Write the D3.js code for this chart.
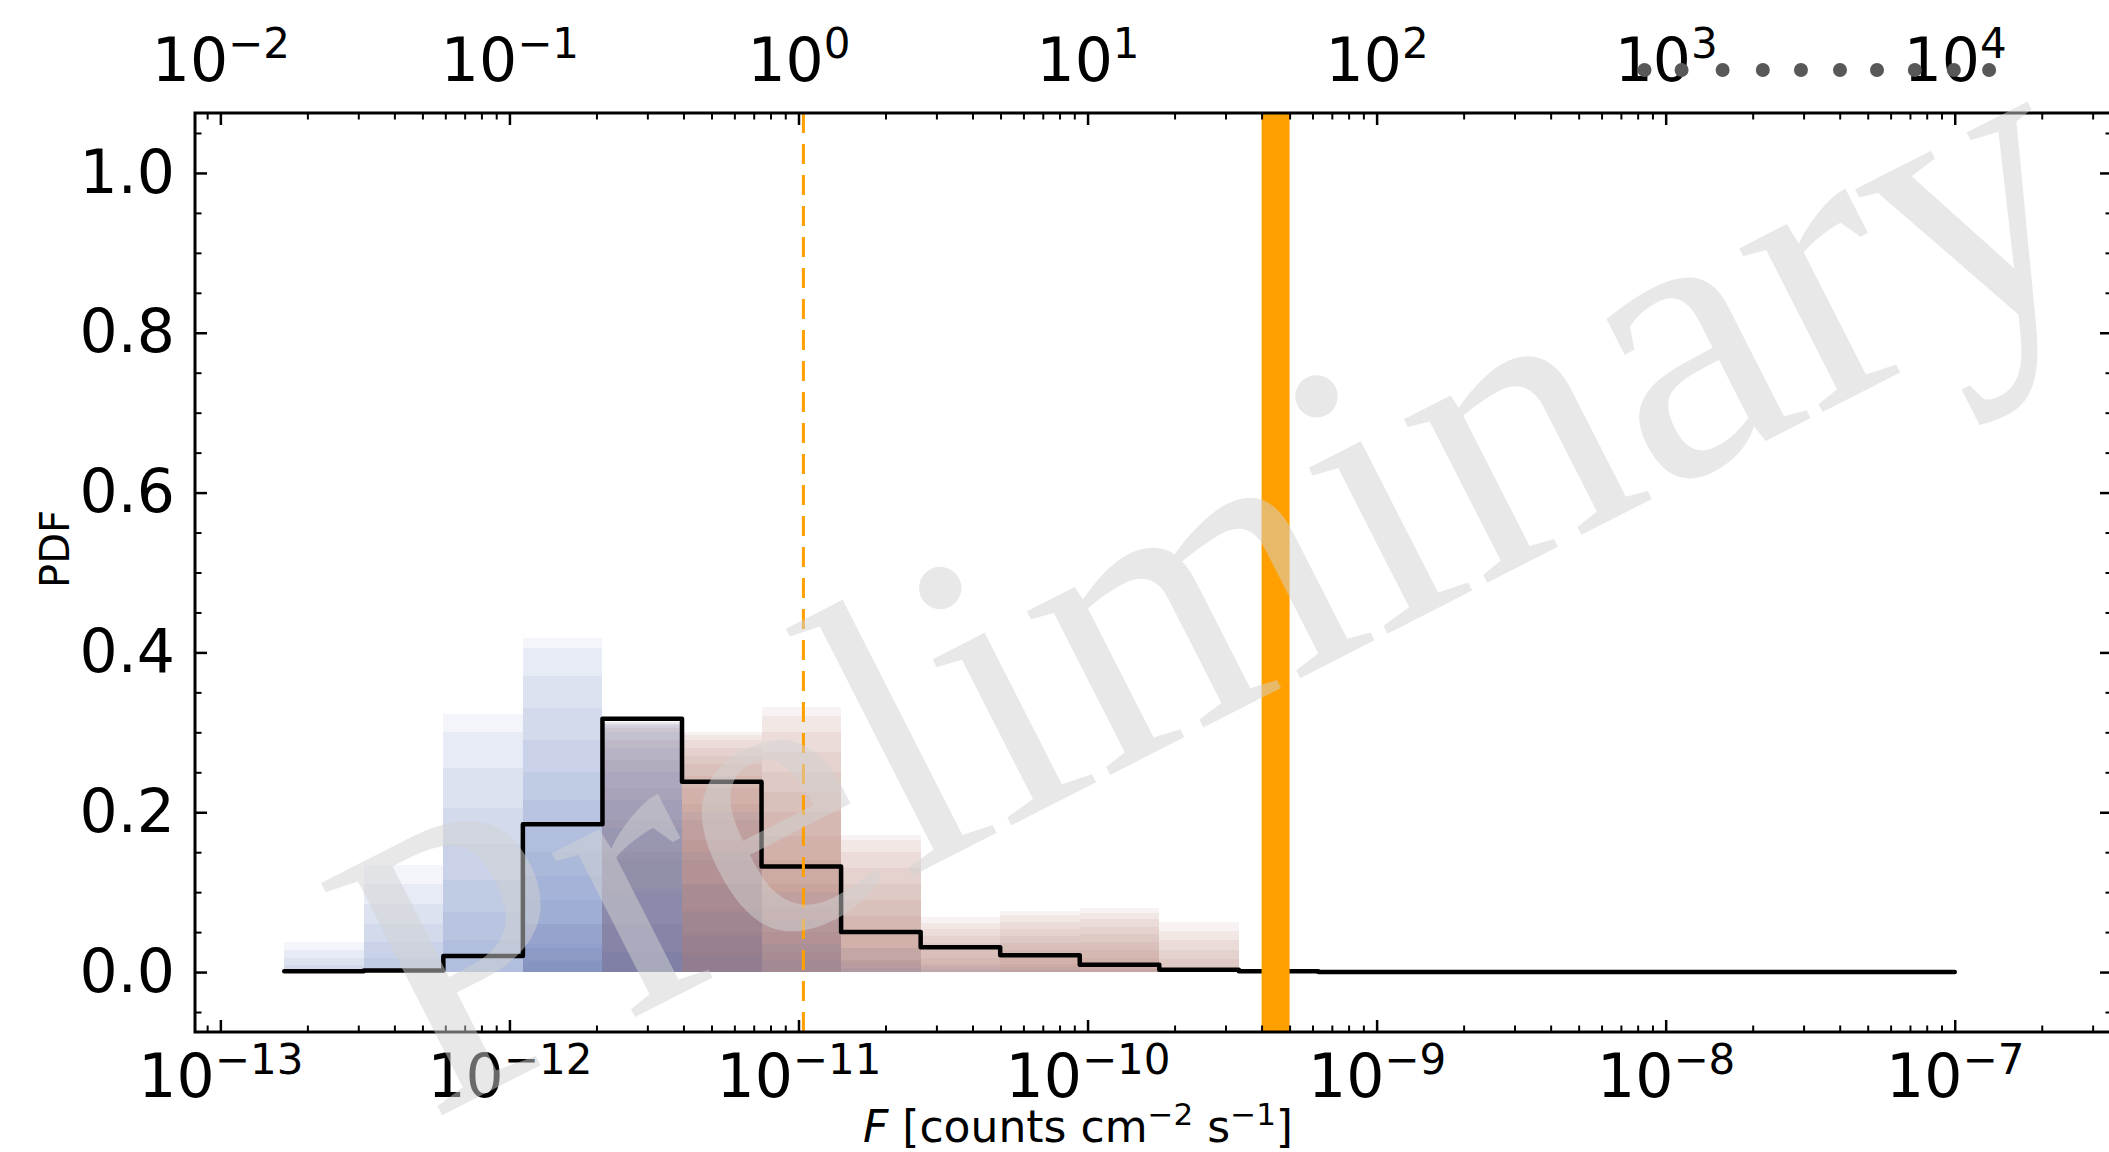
<!DOCTYPE html>
<html>
<head>
<meta charset="utf-8">
<script src="https://cdn.jsdelivr.net/npm/d3@7"></script>
<style>
  html, body { margin: 0; padding: 0; background: #fff; overflow: hidden; }
  svg { display: block; }
</style>
</head>
<body>
<svg id="chart" width="2109" height="1152"></svg>
<script>
// Histogram bin edges in flux [counts cm^-2 s^-1]
const binEdges = [1.663e-13, 3.135e-13, 5.907e-13, 1.113e-12, 2.098e-12, 3.954e-12, 7.450e-12,
  1.404e-11, 2.646e-11, 4.986e-11, 9.397e-11, 1.771e-10, 3.337e-10, 6.289e-10, 1.185e-9,
  2.234e-9, 4.209e-9, 7.932e-9, 1.495e-8, 2.817e-8, 5.309e-8, 1.0e-7];

// Combined PDF per bin (black step curve)
const pdfValues = [0.001, 0.002, 0.020, 0.185, 0.317, 0.238, 0.132, 0.050, 0.031, 0.021,
  0.009, 0.003, 0.001, 0, 0, 0, 0, 0, 0, 0, 0];

// Individual realisations, low-flux population: bar heights per bin
const blueStacks = [
  [0.038, 0.028, 0.018, 0.009],
  [0.134, 0.110, 0.085, 0.060, 0.038, 0.018],
  [0.323, 0.300, 0.255, 0.205, 0.160, 0.115, 0.075, 0.040],
  [0.418, 0.405, 0.370, 0.330, 0.290, 0.250, 0.215, 0.180, 0.150, 0.120, 0.090, 0.060, 0.035, 0.015],
  [0.313, 0.311, 0.308, 0.300, 0.280, 0.250, 0.215, 0.180, 0.140, 0.100, 0.060, 0.025],
  [0.200, 0.150, 0.110, 0.075, 0.045, 0.020],
  [0.100, 0.065, 0.035, 0.015],
  [0.030, 0.012, 0.005],
  [0.008, 0.004],
  [0.006, 0.003],
  [0.004],
  []
];

// Individual realisations, high-flux population: bar heights per bin
const redStacks = [
  [],
  [],
  [],
  [0.060, 0.030, 0.012],
  [0.313, 0.310, 0.305, 0.290, 0.265, 0.230, 0.190, 0.150, 0.105, 0.060, 0.025],
  [0.300, 0.297, 0.290, 0.280, 0.270, 0.260, 0.245, 0.230, 0.210, 0.190, 0.165, 0.140, 0.110, 0.080, 0.050, 0.025],
  [0.332, 0.320, 0.300, 0.275, 0.250, 0.225, 0.200, 0.170, 0.140, 0.110, 0.080, 0.050, 0.025],
  [0.171, 0.165, 0.150, 0.130, 0.110, 0.090, 0.070, 0.050, 0.030, 0.015],
  [0.069, 0.062, 0.054, 0.045, 0.036, 0.027, 0.018, 0.010],
  [0.077, 0.071, 0.063, 0.054, 0.045, 0.036, 0.027, 0.018, 0.010],
  [0.080, 0.074, 0.066, 0.057, 0.048, 0.038, 0.028, 0.018, 0.009],
  [0.063, 0.052, 0.040, 0.028, 0.016]
];

// Detection threshold (dashed) and measured flux interval (band)
const thresholdFlux = 1.04e-11;
const measuredBand = [4.0e-10, 5.0e-10];

// Axis ticks
const xMajorTicks = [1e-13, 1e-12, 1e-11, 1e-10, 1e-9, 1e-8, 1e-7];
const topMajorTicks = [1e-2, 1e-1, 1e0, 1e1, 1e2, 1e3, 1e4];
const yMajorTicks = [0.0, 0.2, 0.4, 0.6, 0.8, 1.0];
const yMinorTicks = [-0.05, 0.05, 0.10, 0.15, 0.25, 0.30, 0.35, 0.45, 0.50, 0.55, 0.65, 0.70, 0.75, 0.85, 0.90, 0.95, 1.05];

// Markers along the upper (energy) axis
const topMarkers = [845, 1135, 1574, 2168, 2938, 4009, 5383, 7278, 9931, 13150];

const FONT = "DejaVu Sans";
const plot = { left: 195, right: 2112, top: 113, bottom: 1032 };

const svg = d3.select("#chart");

const x = d3.scaleLog().domain([8.17e-14, 3.5e-7]).range([plot.left, plot.right]);
const xTop = d3.scaleLog().domain([8.17e-3, 3.5e4]).range([plot.left, plot.right]);
const y = d3.scaleLinear().domain([-0.075, 1.075]).range([plot.bottom, plot.top]);

// ---- stacked translucent realisations
function drawStacks(stacks, color, alpha) {
  const rects = [];
  stacks.forEach((hs, i) => hs.forEach(h => rects.push({ i, h })));
  svg.append("g")
    .attr("shape-rendering", "crispEdges")
    .selectAll("rect").data(rects).join("rect")
    .attr("x", d => x(binEdges[d.i]))
    .attr("width", d => x(binEdges[d.i + 1]) - x(binEdges[d.i]))
    .attr("y", d => y(d.h))
    .attr("height", d => y(0) - y(d.h))
    .attr("fill", color)
    .attr("fill-opacity", alpha);
}
drawStacks(redStacks, "#96504c", 0.072);
drawStacks(blueStacks, "#4e76bc", 0.072);

// ---- combined PDF step curve
const stepPts = pdfValues.map((v, i) => [binEdges[i], v]);
stepPts.push([binEdges[binEdges.length - 1], pdfValues[pdfValues.length - 1]]);
svg.append("path")
  .datum(stepPts)
  .attr("d", d3.line().x(d => x(d[0])).y(d => y(d[1])).curve(d3.curveStepAfter))
  .attr("fill", "none")
  .attr("stroke", "#000")
  .attr("stroke-width", 4.5)
  .attr("stroke-linejoin", "round")
  .attr("stroke-linecap", "round");

// ---- measured flux band
svg.append("rect")
  .attr("x", x(measuredBand[0]))
  .attr("width", x(measuredBand[1]) - x(measuredBand[0]))
  .attr("y", plot.top)
  .attr("height", plot.bottom - plot.top)
  .attr("fill", "#ffa000");

// ---- threshold line
svg.append("line")
  .attr("x1", x(thresholdFlux)).attr("x2", x(thresholdFlux))
  .attr("y1", plot.top).attr("y2", plot.bottom)
  .attr("stroke", "#ffa000")
  .attr("stroke-width", 3)
  .attr("stroke-dasharray", "20,11");

// ---- axes
function powerLabel(g, v, baseY) {
  const e = Math.round(Math.log10(v));
  const t = g.append("text")
    .attr("x", 0).attr("y", baseY)
    .attr("text-anchor", "middle")
    .attr("font-family", FONT)
    .attr("font-size", 60)
    .attr("fill", "#000");
  t.append("tspan").text("10");
  t.append("tspan").attr("dy", -23).attr("font-size", 42)
    .text((e < 0 ? "\u2212" : "") + Math.abs(e));
}

function styleTicks(g, w) {
  g.select(".domain").remove();
  g.selectAll(".tick line").attr("stroke", "#000").attr("stroke-width", w);
}

const xMinor = x.ticks().filter(v => Math.abs(Math.log10(v) - Math.round(Math.log10(v))) > 1e-6);
const topMinor = xTop.ticks().filter(v => Math.abs(Math.log10(v) - Math.round(Math.log10(v))) > 1e-6);

// bottom
svg.append("g").attr("transform", `translate(0,${plot.bottom})`)
  .call(d3.axisBottom(x).tickValues(xMinor).tickSizeInner(-6.5).tickSizeOuter(0).tickFormat(""))
  .call(g => styleTicks(g, 2));
const gBottom = svg.append("g").attr("transform", `translate(0,${plot.bottom})`)
  .call(d3.axisBottom(x).tickValues(xMajorTicks).tickSizeInner(-12).tickSizeOuter(0).tickFormat(""))
  .call(g => styleTicks(g, 2.5));
gBottom.selectAll(".tick").each(function (v) { d3.select(this).select("text").remove(); powerLabel(d3.select(this), v, 65); });

// top
svg.append("g").attr("transform", `translate(0,${plot.top})`)
  .call(d3.axisTop(xTop).tickValues(topMinor).tickSizeInner(-6.5).tickSizeOuter(0).tickFormat(""))
  .call(g => styleTicks(g, 2));
const gTop = svg.append("g").attr("transform", `translate(0,${plot.top})`)
  .call(d3.axisTop(xTop).tickValues(topMajorTicks).tickSizeInner(-12).tickSizeOuter(0).tickFormat(""))
  .call(g => styleTicks(g, 2.5));
gTop.selectAll(".tick").each(function (v) { d3.select(this).select("text").remove(); powerLabel(d3.select(this), v, -32); });

// left
svg.append("g").attr("transform", `translate(${plot.left},0)`)
  .call(d3.axisLeft(y).tickValues(yMinorTicks).tickSizeInner(-6.5).tickSizeOuter(0).tickFormat(""))
  .call(g => styleTicks(g, 2));
svg.append("g").attr("transform", `translate(${plot.left},0)`)
  .call(d3.axisLeft(y).tickValues(yMajorTicks).tickSizeInner(-12).tickSizeOuter(0).tickPadding(20).tickFormat(d3.format(".1f")))
  .call(g => styleTicks(g, 2.5))
  .call(g => g.selectAll("text").attr("font-family", FONT).attr("font-size", 60).attr("fill", "#000"));

// right
svg.append("g").attr("transform", `translate(${plot.right},0)`)
  .call(d3.axisRight(y).tickValues(yMinorTicks).tickSizeInner(-6.5).tickSizeOuter(0).tickFormat(""))
  .call(g => styleTicks(g, 2));
svg.append("g").attr("transform", `translate(${plot.right},0)`)
  .call(d3.axisRight(y).tickValues(yMajorTicks).tickSizeInner(-12).tickSizeOuter(0).tickFormat(""))
  .call(g => styleTicks(g, 2.5));

// frame
svg.append("rect")
  .attr("x", plot.left).attr("y", plot.top)
  .attr("width", plot.right - plot.left).attr("height", plot.bottom - plot.top)
  .attr("fill", "none").attr("stroke", "#000").attr("stroke-width", 3);

// axis titles
svg.append("text")
  .attr("transform", "translate(69,549) rotate(-90)")
  .attr("text-anchor", "middle")
  .attr("font-family", FONT).attr("font-size", 40).attr("fill", "#000")
  .text("PDF");

const xl = svg.append("text")
  .attr("x", 1078).attr("y", 1142)
  .attr("text-anchor", "middle")
  .attr("font-family", FONT).attr("font-size", 44).attr("fill", "#000");
xl.append("tspan").attr("font-style", "italic").text("F");
xl.append("tspan").text(" [counts cm");
xl.append("tspan").attr("dy", -17).attr("font-size", 31).text("\u22122");
xl.append("tspan").attr("dy", 17).text(" s");
xl.append("tspan").attr("dy", -17).attr("font-size", 31).text("\u22121");
xl.append("tspan").attr("dy", 17).text("]");

// markers along the upper axis
svg.append("g").selectAll("circle").data(topMarkers).join("circle")
  .attr("cx", d => xTop(d))
  .attr("cy", 70)
  .attr("r", 7)
  .attr("fill", "#585858");

// watermark
svg.append("text")
  .attr("transform", "translate(1271,693) rotate(-27)")
  .attr("text-anchor", "middle")
  .attr("font-family", "Liberation Serif")
  .attr("font-size", 400)
  .attr("fill", "#d2d2d2")
  .attr("fill-opacity", 0.5)
  .text("Preliminary");
</script>
</body>
</html>
